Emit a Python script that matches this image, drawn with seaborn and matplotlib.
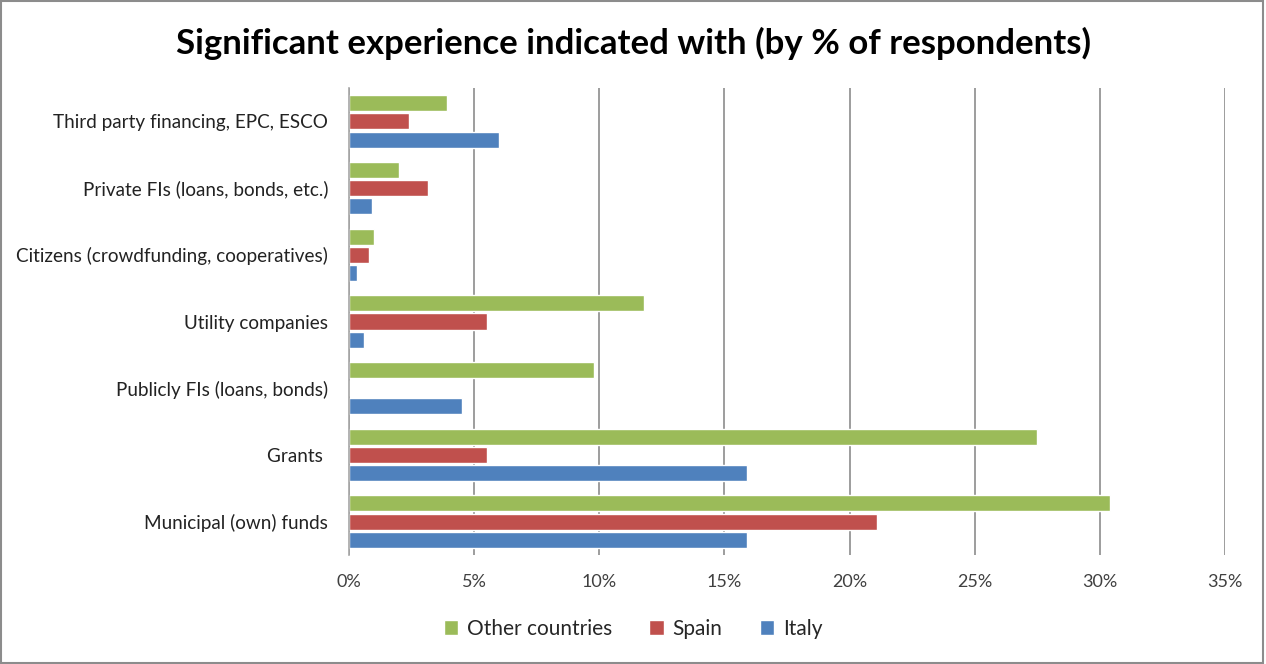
import matplotlib
matplotlib.use("Agg")
import matplotlib.pyplot as plt
import seaborn as sns
import pandas as pd
from matplotlib.patches import Rectangle
from matplotlib.ticker import FuncFormatter

categories = [
    "Third party financing, EPC, ESCO",
    "Private FIs (loans, bonds, etc.)",
    "Citizens (crowdfunding, cooperatives)",
    "Utility companies",
    "Publicly FIs (loans, bonds)",
    "Grants ",
    "Municipal (own) funds",
]
other_countries = [3.9, 2.0, 1.0, 11.8, 9.8, 27.5, 30.4]
spain = [2.4, 3.15, 0.8, 5.5, 0.0, 5.5, 21.1]
italy = [6.0, 0.9, 0.3, 0.6, 4.5, 15.9, 15.9]
series_names = ["Other countries", "Spain", "Italy"]
colors = ["#9BBB59", "#C0504D", "#4F81BD"]
xticks = [0, 5, 10, 15, 20, 25, 30, 35]

rows = []
for name, vals in zip(series_names, [other_countries, spain, italy]):
    for c, v in zip(categories, vals):
        rows.append({"category": c, "series": name, "value": v})
df = pd.DataFrame(rows)

sns.set_theme(style="white")
plt.rcParams["font.family"] = ["Lato", "DejaVu Sans"]

fig = plt.figure(figsize=(12.66, 6.64), dpi=100)
ax = fig.add_axes([349 / 1266, 1 - 555 / 664, (1225 - 349) / 1266, (555 - 88) / 664])

sns.barplot(data=df, y="category", x="value", hue="series", order=categories,
            hue_order=series_names, palette=colors, orient="h", width=0.82,
            gap=0.12, ax=ax, saturation=1, legend=True, errorbar=None)

ax.set_xlim(0, 35)
ax.set_xticks(xticks)
ax.xaxis.set_major_formatter(FuncFormatter(lambda v, p: f"{int(v)}%"))
ax.grid(axis="x", color="#8C8C8C", linewidth=1.2)
ax.set_axisbelow(True)
ax.set_xlabel("")
ax.set_ylabel("")
for s in ["top", "right", "bottom"]:
    ax.spines[s].set_visible(False)
ax.spines["left"].set_color("#A6A6A6")
ax.spines["left"].set_linewidth(1.2)
ax.tick_params(axis="both", length=0, labelsize=13.6, colors="#222222")
ax.tick_params(axis="x", pad=14, colors="#404040", labelsize=13)
ax.tick_params(axis="y", pad=15)

leg = ax.get_legend()
handles, labels = ax.get_legend_handles_labels()
leg.remove()
fig.legend(handles, labels, loc="center", bbox_to_anchor=(0.5, 1 - 629 / 664),
           ncol=3, frameon=False, fontsize=15, handlelength=0.7, handleheight=0.7,
           handletextpad=0.4, columnspacing=1.8)

fig.text(0.5, 1 - 43 / 664, "Significant experience indicated with (by % of respondents)",
         ha="center", va="center", fontsize=25, fontweight="bold", color="black")

fig.patches.append(Rectangle((0.001, 0.002), 0.997, 0.996, transform=fig.transFigure,
                             fill=False, edgecolor="#8C8C8C", linewidth=1.5))

fig.savefig("out.png", dpi=100)
